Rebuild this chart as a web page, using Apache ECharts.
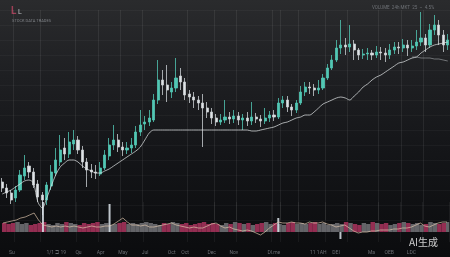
<!DOCTYPE html>
<html><head><meta charset="utf-8">
<script src="https://cdn.jsdelivr.net/npm/echarts@6/dist/echarts.min.js"></script>
<style>
html,body{margin:0;padding:0;background:#0c0d0f;overflow:hidden}
#c{width:450px;height:257px;background:linear-gradient(180deg,#2a2b2d 0%,#1e1f22 30%,#141518 60%,#0b0c0e 100%)}
</style>
</head><body><div id="c"></div>
<script>
const open = [38,32,27,22,30,44,54,48,36,25, 20,34,47,58,72,66,76,80,70,58, 50,48,46,52,64,75,80,73,70,72, 75,88,96,98,100,120,140,135,128,132, 144,138,126,123,120,117,112,108,102,98, 100,103,101,104,100,102,99,103,101,99, 102,105,103,117,120,113,110,117,128,133, 132,130,132,142,152,160,172,175,173,176, 170,165,166,167,165,168,167,165,170,173, 172,175,172,174,178,182,175,190,195,185, 175];
const close = [32,27,20,30,45,52,48,35,23,20, 35,48,60,70,66,78,80,70,58,50, 48,47,52,65,75,80,73,70,72,75, 88,95,98,102,120,140,135,130,132,142, 138,125,123,120,117,112,108,102,98,100, 103,101,104,100,102,99,103,101,99,102, 105,103,117,120,113,110,117,128,133,132, 130,132,142,152,160,172,175,173,176,170, 165,166,167,165,168,167,165,170,173,172, 175,172,174,178,182,175,190,195,185,175, 180];
const low = [28,22,16,18,28,40,42,32,18,5, 15,30,44,54,60,62,70,66,52,33, 42,41,44,50,60,70,68,64,66,67, 72,84,90,94,98,116,125,118,122,128, 130,120,117,112,110,73,102,96,94,95, 97,96,97,95,90,94,95,97,93,96, 98,99,101,112,108,104,107,115,124,126, 124,126,130,140,150,158,166,165,168,160, 160,161,160,160,162,160,158,161,166,166, 168,164,168,170,174,168,172,185,175,168, 170];
const high = [42,36,30,34,50,65,58,52,40,28, 38,55,72,85,82,88,90,84,74,62, 56,55,58,70,82,95,86,78,78,82, 94,110,104,110,126,160,150,155,138,162, 152,142,130,128,124,126,118,112,106,106, 120,108,110,108,106,108,118,107,105,112, 109,110,122,124,124,116,120,134,138,138, 136,140,146,156,165,180,200,182,195,180, 172,171,172,170,174,173,172,176,178,178, 181,180,180,190,208,186,196,205,200,190, 186];
const maFast = [26,28,30,33,36,39,40,37,18,12, 22,34,45,53,57,60,60,58,54,51, 49,47,47,49,51,54,57,60,63,66, 69,73,80,87,90,90,90,90,90,90, 90,90,90,90,90,90,90,90,90,90, 90,90,90,90,90,90,89,89,90,91, 92,93,95,97,98,100,102,103,105,105, 108,112,116,118,120,122,123,122,120,124, 128,133,136,140,143,145,148,151,154,157, 158,160,162,163,167,170,173,175,176,177, 178];
const maSlowTail = [163,163,162,162,162,161,161,160,159]; // last 9 sessions
const volume = [9,8,9,10,8,9,7,8,9,10, 8,7,9,8,10,9,8,7,9,8, 9,10,8,9,7,8,9,10,8,9, 8,9,10,9,8,7,9,8,10,9, 8,9,7,8,9,10,8,9,8,7, 9,8,10,9,8,9,7,8,9,10, 8,9,8,7,9,10,8,9,8,9, 10,8,9,7,8,9,8,10,9,8, 7,9,8,10,9,8,9,7,8,9, 10,9,8,9,7,8,10,9,8,9, 10];
const spikes = [[9,30],[24,28],[62,14],[76,-7]];
const oscillator = [9,10,11,12,14,15,17,19,12,7, 6,5,6,5,6,5,6,5,4,5, 6,5,5,6,6,8,11,14,10,7, 7,6,7,5,5,6,7,8,9,7, 6,5,4,5,4,4,6,8,9,6, 4,5,3,2,1,2,1,-1,-3,0, 4,7,10,9,9,10,9,9,8,10, 9,9,10,8,7,5,6,7,4,1, -1,0,0,1,1,2,2,2,3,3, 4,4,5,7,9,6,5,7,9,10, 10];
const tickLabels = [[2,'Su'],[12,'1/1 \u2290 19'],[17,'Qu'],[22,'Apr'],[27,'May'],[32,'Jul'],[38,'Oct'],[41,'Oct'],[47,'Dec'],[52,'Nov'],[61,'Dl.me'],[71,'11 1AH'],[75,'DEI'],[83,'Ma'],[87,'OEB'],[92,'LDC']];
const gridCols = [3,9,17,22,27,32,42,48,53,61,63,67,73,78,85,90,95];

const categories = open.map((_, i) => 'S' + (i + 1));
const labelMap = {};
tickLabels.forEach(([i, t]) => { labelMap[categories[i]] = t; });
const candles = open.map((o, i) => [o, close[i], low[i], high[i]]);
const maSlow = categories.map((_, i) => i >= categories.length - maSlowTail.length ? maSlowTail[i - (categories.length - maSlowTail.length)] : '-');
const UP = '#52c7b4', DOWN = '#dfe3e6';

const chart = echarts.init(document.getElementById('c'), null, {renderer: 'canvas'});
chart.setOption({
  animation: false,
  backgroundColor: 'transparent',
  grid: [
    {left: 0, right: 0, top: 10, height: 210},
    {left: 0, right: 0, top: 202, height: 40}
  ],
  xAxis: [
    {type: 'category', data: categories, gridIndex: 0, boundaryGap: true,
     axisLine: {show: false}, axisTick: {show: false}, axisLabel: {show: false},
     splitLine: {show: true, interval: (idx) => gridCols.includes(idx), lineStyle: {color: 'rgba(255,255,255,0.07)', width: 1}}},
    {type: 'category', data: categories, gridIndex: 1, boundaryGap: true,
     axisLine: {show: false}, axisTick: {show: false},
     axisLabel: {show: true, interval: 0, margin: 8, fontSize: 5, color: '#6b6e73', fontFamily: 'Roboto',
       formatter: (v) => labelMap[v] || ''},
     splitLine: {show: true, interval: (idx) => gridCols.includes(idx), lineStyle: {color: 'rgba(255,255,255,0.05)', width: 1}}}
  ],
  yAxis: [
    {type: 'value', gridIndex: 0, min: 0, max: 210, interval: 15,
     axisLine: {show: false}, axisTick: {show: false}, axisLabel: {show: false},
     splitLine: {lineStyle: {color: 'rgba(255,255,255,0.035)'}}},
    {type: 'value', gridIndex: 1, min: -10, max: 30, interval: 10,
     axisLine: {show: false}, axisTick: {show: false}, axisLabel: {show: false},
     splitLine: {show: false}}
  ],
  series: [
    {type: 'candlestick', xAxisIndex: 0, yAxisIndex: 0, data: candles, barWidth: 2.6,
     itemStyle: {color: UP, color0: DOWN, borderColor: UP, borderColor0: '#c9ced2', borderWidth: 0.8}},
    {type: 'line', xAxisIndex: 0, yAxisIndex: 0, data: maFast, showSymbol: false, smooth: 0.3,
     lineStyle: {color: 'rgba(225,228,230,0.8)', width: 0.9}},
    {type: 'line', xAxisIndex: 0, yAxisIndex: 0, data: maSlow, showSymbol: false,
     lineStyle: {color: 'rgba(200,204,208,0.6)', width: 0.8}},
    {type: 'bar', xAxisIndex: 1, yAxisIndex: 1, data: volume.map((v, i) => ({value: v,
       itemStyle: {color: close[i] >= open[i] ? 'rgba(115,115,120,0.85)' : 'rgba(172,52,94,0.85)'}})),
     barWidth: '100%'},
    {type: 'bar', xAxisIndex: 1, yAxisIndex: 1, data: spikes, barWidth: 2, barGap: '-100%',
     itemStyle: {color: 'rgba(220,228,235,0.85)'}, z: 3},
    {type: 'line', xAxisIndex: 1, yAxisIndex: 1, data: oscillator, showSymbol: false,
     lineStyle: {color: 'rgba(226,200,175,0.85)', width: 0.8}, z: 4}
  ],
  graphic: [
    {type: 'text', left: 11, top: 6, style: {text: 'L', fill: '#9e3f56', font: 'bold 10px Roboto'}},
    {type: 'text', left: 18, top: 9, style: {text: 'L', fill: '#bfc2c6', font: '7px Roboto'}},
    {type: 'text', left: 12, top: 19, style: {text: 'STOCK DATA TRADES', fill: '#7e8186', font: '4px Roboto'}},
    {type: 'text', left: 372, top: 5, style: {text: 'VOLUME  24h MKT  25  \u2013  4.5%', fill: '#6f7277', font: '4.5px Roboto'}},
    {type: 'text', left: 409, top: 237, style: {text: 'AI生成', fill: 'rgba(235,235,235,0.85)', font: '10px "Noto Sans CJK SC"'}}
  ]
});
</script></body></html>
